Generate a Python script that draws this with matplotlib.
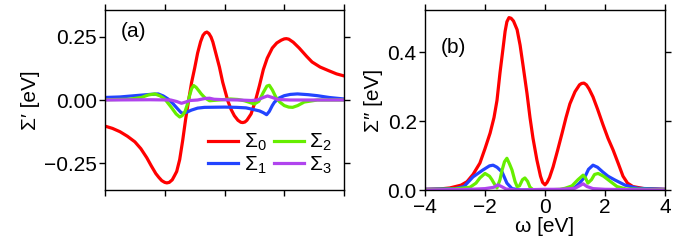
import numpy as np
import matplotlib
matplotlib.use("Agg")
import matplotlib.pyplot as plt

plt.rcParams['font.family'] = ['Liberation Sans', 'DejaVu Sans']
plt.rcParams['mathtext.fontset'] = 'custom'
plt.rcParams['mathtext.rm'] = 'Liberation Sans'
plt.rcParams['mathtext.it'] = 'Liberation Sans'
plt.rcParams['mathtext.sf'] = 'Liberation Sans'

# ---- panel (a): real part Sigma'
w0_re = [-4.0, -3.75, -3.5, -3.25, -3.0, -2.8, -2.6, -2.45, -2.3, -2.2, -2.1, -2.0, -1.93,
         -1.85, -1.75, -1.68, -1.6, -1.5, -1.4, -1.3, -1.2, -1.1, -1.0, -0.9, -0.8, -0.72,
         -0.65, -0.59, -0.52, -0.45, -0.39, -0.27, -0.17, -0.06, 0.11, 0.22, 0.33, 0.45,
         0.55, 0.61, 0.68, 0.75, 0.89, 1.03, 1.17, 1.3, 1.43, 1.6, 1.75, 1.9, 2.0, 2.07,
         2.15, 2.3, 2.5, 2.75, 2.93, 3.2, 3.5, 3.75, 4.0]
s0_re = [-0.103, -0.112, -0.125, -0.143, -0.165, -0.192, -0.228, -0.26, -0.290, -0.305,
         -0.318, -0.325, -0.327, -0.325, -0.315, -0.300, -0.282, -0.235, -0.160, -0.075,
         0.0, 0.07, 0.125, 0.185, 0.23, 0.255, 0.265, 0.268, 0.262, 0.248, 0.229, 0.175,
         0.13, 0.07, -0.003, -0.037, -0.062, -0.08, -0.088, -0.089, -0.087, -0.08, -0.055,
         -0.005, 0.057, 0.12, 0.165, 0.205, 0.225, 0.236, 0.241, 0.242, 0.24, 0.228, 0.205,
         0.172, 0.15, 0.13, 0.115, 0.103, 0.095]

w1_re = [-4.0, -3.5, -3.0, -2.5, -2.22, -2.05, -1.89, -1.72, -1.56, -1.45, -1.39, -1.28,
         -1.11, -0.9, -0.67, 0.0, 0.4, 0.72, 0.95, 1.17, 1.3, 1.41, 1.5, 1.6, 1.67, 1.83,
         2.0, 2.2, 2.44, 2.8, 3.11, 3.5, 4.0]
s1_re = [0.01, 0.012, 0.017, 0.022, 0.024, 0.016, 0.004, -0.015, -0.036, -0.05, -0.052,
         -0.049, -0.04, -0.032, -0.029, -0.028, -0.029, -0.031, -0.037, -0.043, -0.05,
         -0.058, -0.045, -0.022, -0.009, 0.008, 0.017, 0.022, 0.024, 0.021, 0.017, 0.01, 0.004]

w2_re = [-4.0, -3.2, -2.78, -2.55, -2.33, -2.15, -2.0, -1.78, -1.62, -1.5, -1.42, -1.33,
         -1.25, -1.17, -1.1, -1.03, -0.95, -0.85, -0.78, -0.65, -0.5, -0.2, 0.2, 0.45,
         0.67, 0.85, 1.0, 1.15, 1.3, 1.42, 1.5, 1.6, 1.72, 1.85, 2.0, 2.15, 2.28, 2.45,
         2.67, 3.11, 4.0]
s2_re = [0.001, 0.003, 0.01, 0.02, 0.024, 0.016, 0.004, -0.029, -0.055, -0.067, -0.062,
         -0.048, -0.02, 0.017, 0.045, 0.057, 0.05, 0.035, 0.024, 0.008, -0.003, 0.0, 0.004,
         0.002, -0.003, -0.01, -0.016, -0.005, 0.03, 0.055, 0.058, 0.04, 0.011, -0.008,
         -0.022, -0.028, -0.029, -0.022, -0.008, 0.0, 0.0]

w3_re = [-4.0, -2.5, -1.8, -1.6, -1.44, -1.3, -1.15, -0.9, -0.65, -0.5, -0.35, 0.0, 0.5,
         0.9, 1.1, 1.3, 1.44, 1.6, 1.78, 2.2, 4.0]
s3_re = [0.0, 0.001, 0.0, -0.006, -0.013, -0.008, -0.002, 0.0, 0.006, 0.007, 0.003, 0.001,
         0.0, -0.002, 0.0, 0.01, 0.016, 0.01, 0.002, 0.0, 0.0]

# ---- panel (b): imaginary part Sigma''
w0_im = [-4.0, -3.5, -3.17, -2.8, -2.6, -2.4, -2.17, -2.0, -1.83, -1.7, -1.6, -1.5, -1.4,
         -1.33, -1.27, -1.2, -1.13, -1.05, -0.93, -0.83, -0.73, -0.6, -0.5, -0.4, -0.27,
         -0.15, -0.08, 0.0, 0.07, 0.15, 0.27, 0.42, 0.57, 0.7, 0.83, 1.0, 1.15, 1.22, 1.3,
         1.38, 1.47, 1.6, 1.75, 1.93, 2.1, 2.27, 2.45, 2.6, 2.75, 2.93, 3.3, 4.0]
s0_im = [0.002, 0.003, 0.006, 0.014, 0.024, 0.045, 0.078, 0.12, 0.165, 0.21, 0.26, 0.34,
         0.41, 0.46, 0.488, 0.50, 0.498, 0.49, 0.465, 0.42, 0.36, 0.28, 0.21, 0.15, 0.087,
         0.04, 0.022, 0.015, 0.022, 0.036, 0.067, 0.115, 0.165, 0.21, 0.25, 0.285, 0.305,
         0.309, 0.31, 0.305, 0.293, 0.27, 0.235, 0.19, 0.15, 0.116, 0.075, 0.04, 0.02,
         0.01, 0.004, 0.002]

w1_im = [-4.0, -3.0, -2.7, -2.4, -2.07, -1.85, -1.73, -1.6, -1.43, -1.27, -1.1, -0.8, 0.0,
         0.8, 1.0, 1.15, 1.33, 1.45, 1.6, 1.75, 1.93, 2.1, 2.33, 2.67, 3.1, 4.0]
s1_im = [0.002, 0.004, 0.01, 0.038, 0.058, 0.07, 0.072, 0.066, 0.052, 0.02, 0.004, 0.0,
         0.0, 0.0, 0.008, 0.02, 0.038, 0.06, 0.072, 0.066, 0.052, 0.04, 0.029, 0.014,
         0.005, 0.002]

w2_im = [-4.0, -3.0, -2.5, -2.3, -2.17, -2.0, -1.85, -1.77, -1.65, -1.6, -1.5, -1.43,
         -1.35, -1.27, -1.18, -1.1, -1.0, -0.93, -0.85, -0.75, -0.67, -0.58, -0.5, -0.4,
         0.0, 0.5, 0.67, 0.9, 1.1, 1.27, 1.35, 1.43, 1.55, 1.65, 1.77, 1.95, 2.1, 2.4,
         2.7, 4.0]
s2_im = [0.001, 0.003, 0.008, 0.02, 0.035, 0.048, 0.04, 0.03, 0.012, 0.006, 0.03, 0.058,
         0.082, 0.092, 0.075, 0.058, 0.025, 0.01, 0.012, 0.03, 0.035, 0.025, 0.008, 0.001,
         0.0, 0.002, 0.005, 0.012, 0.03, 0.043, 0.035, 0.02, 0.03, 0.045, 0.048, 0.04,
         0.03, 0.01, 0.003, 0.001]

w3_im = [-4.0, -2.5, -2.0, -1.7, -1.57, -1.45, -1.3, -1.0, 0.0, 0.5, 1.0, 1.15, 1.27,
         1.4, 1.6, 2.0, 4.0]
s3_im = [0.0, 0.002, 0.004, 0.008, 0.015, 0.01, 0.003, 0.0, 0.002, 0.002, 0.005, 0.012,
         0.018, 0.01, 0.004, 0.002, 0.0]

labels = [r'$\Sigma_0$', r'$\Sigma_1$', r'$\Sigma_2$', r'$\Sigma_3$']
colors = ['#ff0000', '#2244ff', '#66ee00', '#b044ee']

fig = plt.figure(figsize=(6.75, 2.5), dpi=100)
axa = fig.add_axes([105/675, 0.24, 239/675, 0.72])
axb = fig.add_axes([425/675, 0.24, 240/675, 0.72])

lw = 2.3
re_sets = [(w0_re, s0_re), (w1_re, s1_re), (w2_re, s2_re), (w3_re, s3_re)]
im_sets = [(w0_im, s0_im), (w1_im, s1_im), (w2_im, s2_im), (w3_im, s3_im)]
for (w, s), c, lab in zip(re_sets, colors, labels):
    axa.plot(w, s, color=c, lw=lw, label=lab)
for (w, s), c in zip(im_sets, colors):
    axb.plot(w, s, color=c, lw=lw)

fs = 15
for ax in (axa, axb):
    ax.set_xlim(-4, 4)
    ax.set_xticks([-4, -2, 0, 2, 4])
    ax.tick_params(direction='out', length=4, width=1, top=True, right=True,
                   labelsize=fs, pad=2)
    for sp in ax.spines.values():
        sp.set_linewidth(1)

axa.set_ylim(-0.355, 0.355)
axa.set_yticks([-0.25, 0.0, 0.25])
axa.set_yticklabels(['\u22120.25', '0.00', '0.25'])
axa.tick_params(labelbottom=False)
axa.set_ylabel('\u03a3\u2032 [eV]', fontsize=fs, labelpad=3)
axa.text(0.065, 0.85, '(a)', transform=axa.transAxes, fontsize=fs)

axb.set_ylim(0, 0.522)
axb.set_yticks([0.0, 0.2, 0.4])
axb.set_xticklabels(['\u22124', '\u22122', '0', '2', '4'])
axb.set_ylabel('\u03a3\u2033 [eV]', fontsize=fs, labelpad=3)
axb.set_xlabel('\u03c9 [eV]', fontsize=fs, labelpad=0)
axb.text(0.065, 0.76, '(b)', transform=axb.transAxes, fontsize=fs)

leg = axa.legend(ncol=2, frameon=False, fontsize=fs, handlelength=1.45,
                 handletextpad=0.25, columnspacing=0.35, labelspacing=0.05,
                 loc='lower right', bbox_to_anchor=(1.0, 0.01), borderaxespad=0.2)

fig.savefig('out.png', dpi=100)
